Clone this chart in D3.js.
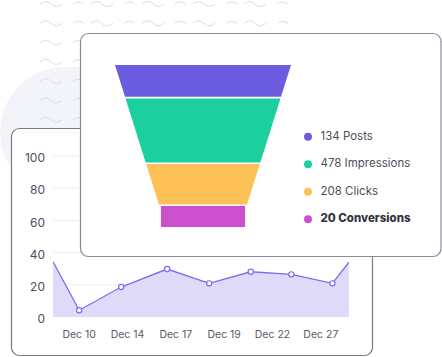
<!DOCTYPE html>
<html><head><meta charset="utf-8">
<script src="https://cdn.jsdelivr.net/npm/d3@7"></script>
<style>html,body{margin:0;padding:0;background:#fff;}svg{display:block;font-family:Inter,"Open Sans",sans-serif;}</style>
</head><body>
<svg id="c" width="442" height="357"></svg>
<script>
// ---- data ----
const funnelLabels = ["Posts", "Impressions", "Clicks", "Conversions"];
const funnelValues = [134, 478, 208, 20];
const funnelColors = ["#6c5ce0", "#1ccf9f", "#fdc158", "#cc4fcc"];

const lineT = [-0.04, 0.5, 1.37, 2.32, 3.19, 4.05, 4.89, 5.74, 6.08];
const lineValues = [34.3, 4.2, 18.6, 29.8, 20.9, 28.1, 26.5, 20.9, 34.0];
const xTickLabels = ["Dec 10", "Dec 14", "Dec 17", "Dec 19", "Dec 22", "Dec 27"];
const yTicks = [0, 20, 40, 60, 80, 100];

const svg = d3.select("#c");

// ---- background decoration ----
svg.append("rect").attr("x", 0).attr("y", 67).attr("width", 300).attr("height", 130)
  .attr("rx", 65).attr("fill", "#f3f3fa");
const wave = svg.append("g").attr("fill", "none").attr("stroke", "#dcdce4").attr("stroke-width", 1);
for (let r = 0; r < 7; r++) {
  const y0 = 4 + r * 19.3;
  for (let k = 0; k < 5; k++) {
    const x0 = 40 + k * 51;
    wave.append("path").attr("d", `M${x0},${y0} q6,-5 11,0 t11,0`);
    wave.append("path").attr("d", `M${x0 + 33},${y0} q5,-4 11,0`);
  }
}

// ---- back card: line chart ----
svg.append("rect").attr("x", 11.5).attr("y", 128.5).attr("width", 361).attr("height", 227)
  .attr("rx", 8).attr("fill", "#fff").attr("stroke", "#7b7b86").attr("stroke-width", 1.2);

const x = d3.scaleLinear().domain([0, 6]).range([55, 345]);
const y = d3.scaleLinear().domain([0, 100]).range([317, 156]);
const xl = 53, xr = 349;

const grid = svg.append("g");
grid.selectAll("line").data(yTicks.slice(1)).join("line")
  .attr("x1", xl).attr("x2", xr).attr("y1", d => y(d)).attr("y2", d => y(d))
  .attr("stroke", "#ededf2").attr("stroke-width", 1);

svg.append("g").selectAll("text").data(yTicks).join("text")
  .attr("x", 45).attr("y", d => y(d) + 3).attr("text-anchor", "end").attr("dominant-baseline", "middle")
  .attr("font-size", 12).attr("fill", "#4e4e5a").text(d => d);

const pts = lineT.map((t, i) => [t, lineValues[i]]);
svg.append("defs").append("clipPath").attr("id", "pc").append("rect")
  .attr("x", xl).attr("y", 140).attr("width", xr - xl).attr("height", 200);
const plot = svg.append("g").attr("clip-path", "url(#pc)");
plot.append("path").datum(pts)
  .attr("d", d3.area().x(d => x(d[0])).y0(y(0)).y1(d => y(d[1])))
  .attr("fill", "#dedaf8");
plot.append("path").datum(pts)
  .attr("d", d3.line().x(d => x(d[0])).y(d => y(d[1])))
  .attr("fill", "none").attr("stroke", "#7b6cf0").attr("stroke-width", 1.3);
plot.selectAll("circle").data(pts.slice(1, -1)).join("circle")
  .attr("cx", d => x(d[0])).attr("cy", d => y(d[1])).attr("r", 2.6)
  .attr("fill", "#fff").attr("stroke", "#7b6cf0").attr("stroke-width", 1.2);

svg.append("g").selectAll("text").data(xTickLabels).join("text")
  .attr("x", (d, i) => x(i + 0.5)).attr("y", 335).attr("text-anchor", "middle").attr("dominant-baseline", "middle")
  .attr("font-size", 10.5).attr("fill", "#5a5a66").text(d => d);

// ---- front card: funnel ----
svg.append("rect").attr("x", 80.5).attr("y", 33.5).attr("width", 360.5).attr("height", 223)
  .attr("rx", 8).attr("fill", "#fff").attr("stroke", "#8a8a96").attr("stroke-width", 1.2);

const hScale = d3.scalePow().exponent(0.55).domain([0, d3.max(funnelValues)]).range([0, 64]);
const minH = 21, gap = 1.6, topY = 65, topW = 176, cx = 203, slope = 0.63;
const widthAt = yy => topW - (yy - topY) * slope;
let cy = topY;
const bands = funnelValues.map((v, i) => {
  const h = Math.max(hScale(v), minH);
  const b = { i, y0: cy, y1: cy + h };
  cy += h + gap;
  return b;
});
const fg = svg.append("g");
bands.forEach((b, i) => {
  let pts;
  if (i === bands.length - 1) {
    const w = widthAt(b.y0) - 3;
    pts = [[cx - w / 2, b.y0], [cx + w / 2, b.y0], [cx + w / 2, b.y1], [cx - w / 2, b.y1]];
  } else {
    const w0 = widthAt(b.y0), w1 = widthAt(b.y1);
    pts = [[cx - w0 / 2, b.y0], [cx + w0 / 2, b.y0], [cx + w1 / 2, b.y1], [cx - w1 / 2, b.y1]];
  }
  fg.append("polygon").attr("points", pts.map(p => p.join(",")).join(" ")).attr("fill", funnelColors[i]);
});

const leg = svg.append("g");
const legY = d3.scalePoint().domain(funnelLabels).range([136.7, 219.3]);
funnelLabels.forEach((lab, i) => {
  leg.append("circle").attr("cx", 308).attr("cy", legY(lab)).attr("r", 4).attr("fill", funnelColors[i]);
  leg.append("text").attr("x", 320.5).attr("y", legY(lab)).attr("dominant-baseline", "middle")
    .attr("font-size", 11.5)
    .attr("font-weight", i === funnelLabels.length - 1 ? 800 : 400)
    .attr("fill", i === funnelLabels.length - 1 ? "#34343f" : "#4e4e5a")
    .text(`${funnelValues[i]} ${lab}`);
});
</script>
</body></html>
